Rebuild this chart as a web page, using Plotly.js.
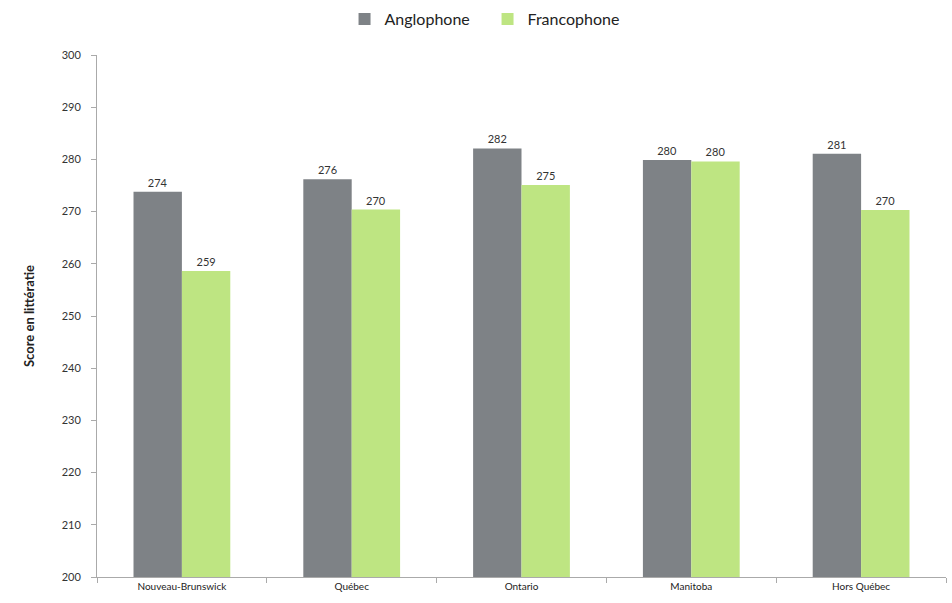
<!DOCTYPE html>
<html>
<head>
<meta charset="utf-8">
<script src="https://cdn.plot.ly/plotly-3.0.1.min.js"></script>
<style>html,body{margin:0;padding:0;background:#fff;}#chart{width:952px;height:603px;}</style>
</head>
<body>
<div id="chart"></div>
<script>
const categories = ["Nouveau-Brunswick", "Québec", "Ontario", "Manitoba", "Hors Québec"];
const anglophone = [273.8, 276.2, 282.1, 279.9, 281.1];
const francophone = [258.6, 270.4, 275.1, 279.6, 270.3];
const seriesNames = ["Anglophone", "Francophone"];
const yTicks = [200, 210, 220, 230, 240, 250, 260, 270, 280, 290, 300];

const fontFam = "Lato, 'Open Sans', sans-serif";

const traces = [
  {type: "bar", name: seriesNames[0], x: categories, y: anglophone,
   marker: {color: "#7e8286"}, texttemplate: "%{y:.0f}", textposition: "outside",
   textfont: {size: 11, color: "#333", family: fontFam}, cliponaxis: false},
  {type: "bar", name: seriesNames[1], x: categories, y: francophone,
   marker: {color: "#bee582"}, texttemplate: "%{y:.0f}", textposition: "outside",
   textfont: {size: 11, color: "#333", family: fontFam}, cliponaxis: false}
];

const layout = {
  width: 952, height: 603,
  margin: {l: 97, r: 6, t: 55, b: 26, autoexpand: false},
  paper_bgcolor: "#fff", plot_bgcolor: "#fff",
  barmode: "group", bargap: 0.43, bargroupgap: 0,
  font: {family: fontFam, color: "#333", size: 11},
  showlegend: true,
  legend: {orientation: "h", x: 0.46, xanchor: "center", y: 1.069, yanchor: "middle",
           font: {size: 16, color: "#222", family: fontFam}, entrywidth: 98, traceorder: "normal"},
  xaxis: {type: "category", showgrid: false, showline: true, linecolor: "#aaa", linewidth: 1,
          ticks: "outside", tickson: "boundaries", ticklen: 5, tickcolor: "#aaa",
          tickfont: {size: 10, color: "#222"}, fixedrange: true},
  yaxis: {range: [200, 300], tickvals: yTicks, showgrid: false, zeroline: false,
          showline: true, linecolor: "#aaa", linewidth: 1, ticks: "outside", ticklen: 5, tickcolor: "#aaa",
          tickfont: {size: 11, color: "#333"}, ticklabelstandoff: 8,
          title: {text: "Score en littératie", font: {size: 13, color: "#222", family: fontFam, weight: "bold"}, standoff: 24}}
};

Plotly.newPlot("chart", traces, layout, {displayModeBar: false, staticPlot: true});
</script>
</body>
</html>
